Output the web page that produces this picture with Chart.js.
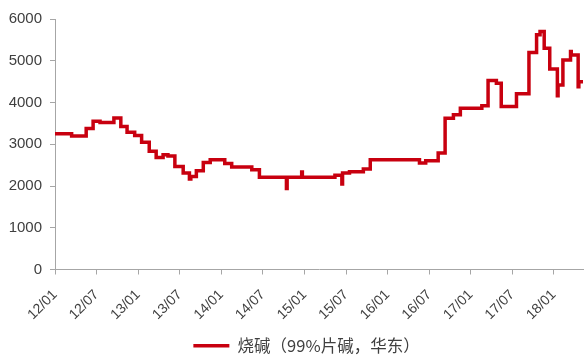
<!DOCTYPE html>
<html>
<head>
<meta charset="utf-8">
<script src="https://cdn.jsdelivr.net/npm/chart.js@4/dist/chart.umd.min.js"></script>
<style>
  html, body { margin: 0; padding: 0; background: #fff; }
  #wrap { width: 584px; height: 356px; position: relative; }
</style>
</head>
<body>
<div id="wrap"><canvas id="chart"></canvas></div>
<script>
// months counted from 2012/01, value holds until the next point
const monthIndex = [
  0, 2.4, 4.5, 5.5, 6.5, 8.5, 9.5, 10.4, 11.5, 12.5, 13.6, 14.6, 15.6, 16.3,
  17.3, 18.5, 19.4, 19.6, 20.4, 21.4, 22.4, 24.5, 25.5, 28.4, 29.5, 33.4, 33.5,
  35.6, 35.7, 40.4, 41.4, 41.5, 42.5, 44.5, 45.5, 52.6, 53.5, 55.3, 56.3, 57.5,
  58.5, 61.6, 62.5, 63.7, 64.4, 66.6, 68.4, 69.5, 70.0, 70.6, 71.4, 72.5, 72.6,
  73.3, 74.4, 74.5, 75.5, 75.6, 76.2
];
const price = [
  3250, 3200, 3380, 3550, 3520, 3630, 3425, 3290, 3210, 3045, 2830, 2685, 2750, 2720,
  2470, 2310, 2170, 2230, 2365, 2565, 2630, 2540, 2455, 2390, 2207, 1940, 2207,
  2335, 2207, 2255, 2050, 2310, 2343, 2407, 2630, 2550, 2605, 2790, 3625, 3705,
  3865, 3920, 4525, 4460, 3905, 4207, 5200, 5620, 5700, 5300, 4800, 4160, 4420,
  5020, 5220, 5140, 4380, 4500, 4500
];
const tickLabels = ['12/01', '12/07', '13/01', '13/07', '14/01', '14/07', '15/01',
  '15/07', '16/01', '16/07', '17/01', '17/07', '18/01'];
const yTicks = [0, 1000, 2000, 3000, 4000, 5000, 6000];
const seriesName = '烧碱（99%片碱，华东）';

const toMonth = (label) => {
  const parts = label.split('/');
  return (Number(parts[0]) - 12) * 12 + Number(parts[1]) - 1;
};
const tickMonths = tickLabels.map(toMonth);

const points = monthIndex.map((m, i) => ({ x: m, y: price[i] }));
const axisColor = '#a6a6a6';
const lineColor = '#c8000f';

// the legend in the original sits a little right of centre
const nudgeLegend = {
  id: 'nudgeLegend',
  afterLayout(chart) {
    chart.legend.left += 11;
    chart.legend.right += 11;
  },
};

const ctx = document.getElementById('chart');
const chart = new Chart(ctx, {
  type: 'line',
  data: {
    datasets: [
      {
        label: seriesName,
        data: points,
        borderColor: lineColor,
        backgroundColor: lineColor,
        borderWidth: 3.5,
        pointRadius: 0,
        stepped: 'before',
        fill: false,
      },
    ],
  },
  options: {
    responsive: true,
    maintainAspectRatio: false,
    animation: false,
    layout: { padding: { left: 8, right: 1, top: 19, bottom: -8 } },
    scales: {
      x: {
        type: 'linear',
        min: 0,
        max: monthIndex[monthIndex.length - 1],
        afterBuildTicks: (scale) => {
          scale.ticks = tickMonths.map((v) => ({ value: v }));
        },
        afterFit: (scale) => {
          scale.height = 66;
        },
        ticks: {
          autoSkip: false,
          minRotation: 45,
          maxRotation: 45,
          color: '#404040',
          font: { family: 'Liberation Sans', size: 14 },
          padding: 12,
          callback: (value) => tickLabels[tickMonths.indexOf(value)],
        },
        grid: { drawOnChartArea: false, drawTicks: true, tickLength: 5, color: axisColor },
        border: { display: true, color: axisColor, width: 1 },
      },
      y: {
        min: 0,
        max: 6000,
        afterBuildTicks: (scale) => {
          scale.ticks = yTicks.map((v) => ({ value: v }));
        },
        afterFit: (scale) => {
          scale.width = 47;
        },
        ticks: {
          color: '#404040',
          font: { family: 'Liberation Sans', size: 15 },
          padding: 8,
          callback: (value) => String(value),
        },
        grid: { drawOnChartArea: false, drawTicks: true, tickLength: 5, color: axisColor },
        border: { display: true, color: axisColor, width: 1 },
      },
    },
    plugins: {
      legend: {
        position: 'bottom',
        labels: {
          usePointStyle: true,
          pointStyle: 'line',
          pointStyleWidth: 36,
          color: '#404040',
          font: { family: 'Noto Sans CJK SC', size: 16.5 },
          padding: 2,
        },
      },
      tooltip: { enabled: false },
    },
  },
  plugins: [nudgeLegend],
});
</script>
</body>
</html>
